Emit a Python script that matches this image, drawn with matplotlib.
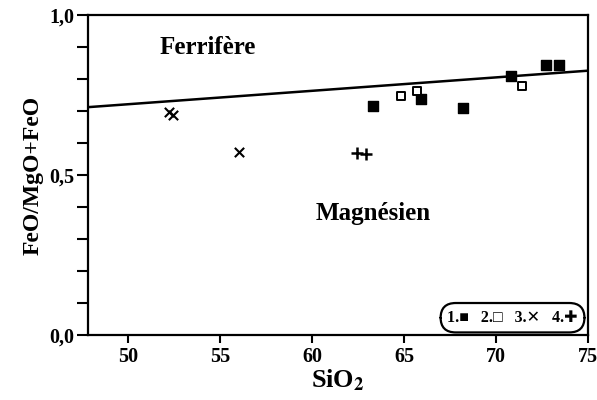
import matplotlib
matplotlib.use('Agg')
import matplotlib.pyplot as plt
from matplotlib.ticker import MultipleLocator, FixedLocator

# Groups 1-4 (SiO2, FeO/MgO+FeO)
g1_x = [63.3, 65.9, 68.2, 70.8, 72.7, 73.4]
g1_y = [0.716, 0.738, 0.710, 0.810, 0.845, 0.845]
g2_x = [64.8, 65.7, 71.4]
g2_y = [0.748, 0.763, 0.778]
g3_x = [52.2, 52.4, 56.0]
g3_y = [0.697, 0.689, 0.572]
g4_x = [62.45, 62.9]
g4_y = [0.568, 0.566]

# Ferrifere / Magnesien boundary
line_x = [47.8, 75.0]
line_y = [0.712, 0.826]

x_ticks = [50, 55, 60, 65, 70, 75]
y_ticks = [0.0, 0.5, 1.0]
y_tick_labels = ['0,0', '0,5', '1,0']
legend_text = '1.\u25A0   2.\u25A1   3.\u2715   4.\u271A'

plt.rcParams['font.family'] = ['Liberation Serif', 'DejaVu Sans']
plt.rcParams['mathtext.fontset'] = 'stix'

fig = plt.figure(figsize=(5.97, 4.0), dpi=100)
ax = fig.add_axes([0.1474, 0.1625, 0.8376, 0.80])

ax.plot(line_x, line_y, color='black', lw=1.8)
ax.scatter(g1_x, g1_y, marker='s', s=50, color='black', zorder=3)
ax.scatter(g2_x, g2_y, marker='s', s=30, facecolor='white', edgecolor='black', linewidth=1.4, zorder=3)
ax.scatter(g3_x, g3_y, marker='x', s=45, color='black', linewidth=1.5, zorder=3)
ax.scatter(g4_x, g4_y, marker='+', s=80, color='black', linewidth=1.8, zorder=3)

ax.set_xlim(47.8, 75)
ax.set_ylim(0, 1.0)
ax.xaxis.set_major_locator(FixedLocator(x_ticks))
ax.yaxis.set_major_locator(FixedLocator(y_ticks))
ax.yaxis.set_minor_locator(MultipleLocator(0.1))
ax.set_xticks(x_ticks)
ax.set_xticklabels([str(v) for v in x_ticks], fontsize=14.5, fontweight='bold')
ax.set_yticks(y_ticks)
ax.set_yticklabels(y_tick_labels, fontsize=14.5, fontweight='bold')
ax.tick_params(axis='both', which='both', direction='out', width=1.5)
ax.tick_params(axis='x', length=6, pad=3)
ax.tick_params(axis='y', which='both', length=8, pad=2)
for sp in ax.spines.values():
    sp.set_linewidth(1.6)

ax.set_xlabel(r'SiO$_\mathbf{2}$', fontsize=19, fontweight='bold', labelpad=0)
ax.set_ylabel('FeO/MgO+FeO', fontsize=17, fontweight='bold', labelpad=4)

ax.text(54.3, 0.90, 'Ferrifère', fontsize=18, fontweight='bold', ha='center', va='center')
ax.text(63.3, 0.38, 'Magnésien', fontsize=18, fontweight='bold', ha='center', va='center')

# legend drawn as rounded box of symbols
ax.text(0.849, 0.054, legend_text, transform=ax.transAxes, fontsize=11.5, fontweight='bold',
        family=['Liberation Serif', 'DejaVu Sans'], ha='center', va='center', zorder=5,
        bbox=dict(boxstyle='round,pad=0.42,rounding_size=0.95', facecolor='white',
                  edgecolor='black', linewidth=1.6))

fig.savefig('out.png', dpi=100)
